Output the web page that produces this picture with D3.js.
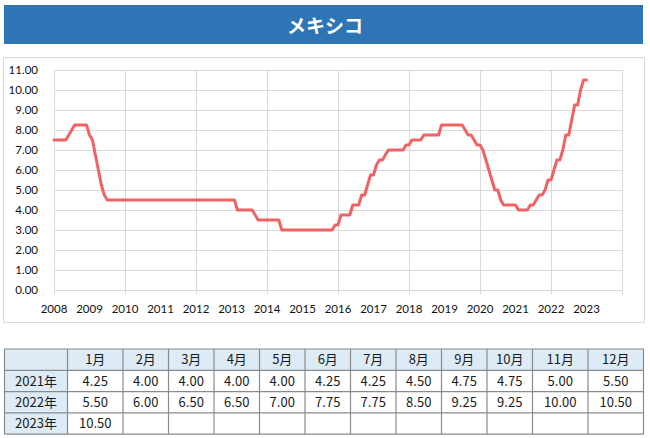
<!DOCTYPE html>
<html><head><meta charset="utf-8">
<script src="https://cdn.jsdelivr.net/npm/d3@7"></script>
<style>
html,body{margin:0;padding:0;background:#fff;}
svg{display:block;}
</style></head>
<body>
<svg id="c" width="650" height="438"></svg>
<script>
// ---- data ----
const title = "メキシコ";
const startYear = 2008;
const r2008 = [7.50,7.50,7.50,7.50,7.50,7.75,8.00,8.25,8.25,8.25,8.25,8.25];
const r2009 = [7.75,7.50,6.75,6.00,5.25,4.75,4.50,4.50,4.50,4.50,4.50,4.50];
const r2010 = [4.50,4.50,4.50,4.50,4.50,4.50,4.50,4.50,4.50,4.50,4.50,4.50];
const r2011 = [4.50,4.50,4.50,4.50,4.50,4.50,4.50,4.50,4.50,4.50,4.50,4.50];
const r2012 = [4.50,4.50,4.50,4.50,4.50,4.50,4.50,4.50,4.50,4.50,4.50,4.50];
const r2013 = [4.50,4.50,4.00,4.00,4.00,4.00,4.00,4.00,3.75,3.50,3.50,3.50];
const r2014 = [3.50,3.50,3.50,3.50,3.50,3.00,3.00,3.00,3.00,3.00,3.00,3.00];
const r2015 = [3.00,3.00,3.00,3.00,3.00,3.00,3.00,3.00,3.00,3.00,3.00,3.25];
const r2016 = [3.25,3.75,3.75,3.75,3.75,4.25,4.25,4.25,4.75,4.75,5.25,5.75];
const r2017 = [5.75,6.25,6.50,6.50,6.75,7.00,7.00,7.00,7.00,7.00,7.00,7.25];
const r2018 = [7.25,7.50,7.50,7.50,7.50,7.75,7.75,7.75,7.75,7.75,7.75,8.25];
const r2019 = [8.25,8.25,8.25,8.25,8.25,8.25,8.25,8.00,7.75,7.75,7.50,7.25];
const r2020 = [7.25,7.00,6.50,6.00,5.50,5.00,5.00,4.50,4.25,4.25,4.25,4.25];
const r2021 = [4.25,4.00,4.00,4.00,4.00,4.25,4.25,4.50,4.75,4.75,5.00,5.50];
const r2022 = [5.50,6.00,6.50,6.50,7.00,7.75,7.75,8.50,9.25,9.25,10.00,10.50];
const r2023 = [10.50];
const yearlyRates = [r2008,r2009,r2010,r2011,r2012,r2013,r2014,r2015,r2016,r2017,r2018,r2019,r2020,r2021,r2022,r2023];
const xTickYears = d3.range(2008, 2024);
const yTicks = d3.range(0, 12);
const tableMonths = ["1月","2月","3月","4月","5月","6月","7月","8月","9月","10月","11月","12月"];
const tableYears = ["2021年","2022年","2023年"];
const tableRows = [r2021, r2022, r2023];

// ---- build series ----
const series = [];
yearlyRates.forEach((arr, yi) => arr.forEach((v, m) => series.push({t: startYear + yi + m/12, v})));

const svg = d3.select("#c");
const FONT = "Lato, 'Liberation Sans', sans-serif";
const JP = "'Noto Sans CJK JP', sans-serif";

// title bar
svg.append("rect").attr("x",4).attr("y",5).attr("width",639).attr("height",39).attr("fill","#2E75B6");
svg.append("text").attr("x",325).attr("y",24.5).attr("text-anchor","middle").attr("dominant-baseline","central")
  .attr("font-family",JP).attr("font-weight","bold").attr("font-size",19).attr("fill","#fff").text(title);

// chart box
svg.append("rect").attr("x",3.5).attr("y",57.5).attr("width",641).attr("height",265)
  .attr("fill","#fff").attr("stroke","#D9D9D9");

const x = d3.scaleLinear().domain([2008, 2024]).range([54, 622]);
const y = d3.scaleLinear().domain([0, 11]).range([290, 70]);

const g = svg.append("g");
// horizontal grid
g.selectAll(".hg").data(yTicks).join("line")
  .attr("x1", x(2008)).attr("x2", x(2024))
  .attr("y1", d => Math.round(y(d))+0.5).attr("y2", d => Math.round(y(d))+0.5)
  .attr("stroke","#D9D9D9").attr("stroke-width",1);
// vertical grid (every 2 years + right border)
const vg = d3.range(2008, 2025, 2);
g.selectAll(".vg").data(vg).join("line")
  .attr("x1", d => Math.round(x(d))+0.5).attr("x2", d => Math.round(x(d))+0.5)
  .attr("y1", y(11)).attr("y2", y(0)+4)
  .attr("stroke","#D9D9D9").attr("stroke-width",1);

// y labels
g.selectAll(".yl").data(yTicks).join("text")
  .attr("x", 38).attr("y", d => y(d)).attr("dy","0.35em").attr("text-anchor","end")
  .attr("font-family",FONT).attr("font-size",11.5).attr("fill","#111")
  .text(d3.format(".2f"));
// x labels
g.selectAll(".xl").data(xTickYears).join("text")
  .attr("x", d => x(d)).attr("y", 309).attr("dy","0.35em").attr("text-anchor","middle")
  .attr("font-family",FONT).attr("font-size",11.5).attr("fill","#111")
  .text(d => d);

// line
const line = d3.line().x(d => x(d.t)).y(d => y(d.v));
g.append("path").datum(series).attr("d", line)
  .attr("fill","none").attr("stroke","#EE6363").attr("stroke-width",3)
  .attr("stroke-linejoin","round").attr("stroke-linecap","round");

// ---- table ----
const tx0 = 4.5, ty0 = 349, rowH = 21.3;
const firstW = 63;
const colW = tableMonths.map((m, i) => tableRows.some(r => r[i] !== undefined && r[i].toFixed(2).length >= 5) ? 55.5 : 45.5);
const colX = [tx0 + firstW];
colW.forEach((w, i) => colX.push(colX[i] + w));
const tableW = colX[colX.length-1] - tx0;
const nRows = tableRows.length + 1;
const tg = svg.append("g");
// header fill
tg.append("rect").attr("x",tx0).attr("y",ty0).attr("width",tableW).attr("height",rowH).attr("fill","#DDEBF7");
tg.append("rect").attr("x",tx0).attr("y",ty0).attr("width",firstW).attr("height",rowH*nRows).attr("fill","#DDEBF7");
// grid lines
for (let r = 0; r <= nRows; r++) {
  tg.append("line").attr("x1",tx0).attr("x2",tx0+tableW).attr("y1",ty0+r*rowH).attr("y2",ty0+r*rowH)
    .attr("stroke","#8A8A8A").attr("stroke-width",1.2);
}
[tx0].concat(colX).forEach(cx => {
  tg.append("line").attr("x1",cx).attr("x2",cx).attr("y1",ty0).attr("y2",ty0+rowH*nRows)
    .attr("stroke","#8A8A8A").attr("stroke-width",1.2);
});
const txt = (sel, tx, ty, s) => sel.append("text").attr("x",tx).attr("y",ty).attr("dy","0.36em")
  .attr("text-anchor","middle").attr("font-family",JP).attr("font-size",13).attr("fill","#1a1a1a").text(s);
tableMonths.forEach((m, i) => txt(tg, (colX[i]+colX[i+1])/2, ty0 + rowH/2, m));
tableYears.forEach((yr, r) => {
  const cy = ty0 + rowH*(r+1) + rowH/2;
  txt(tg, tx0 + firstW/2, cy, yr);
  tableRows[r].forEach((v, i) => txt(tg, (colX[i]+colX[i+1])/2, cy, v.toFixed(2)));
});
</script>
</body></html>
